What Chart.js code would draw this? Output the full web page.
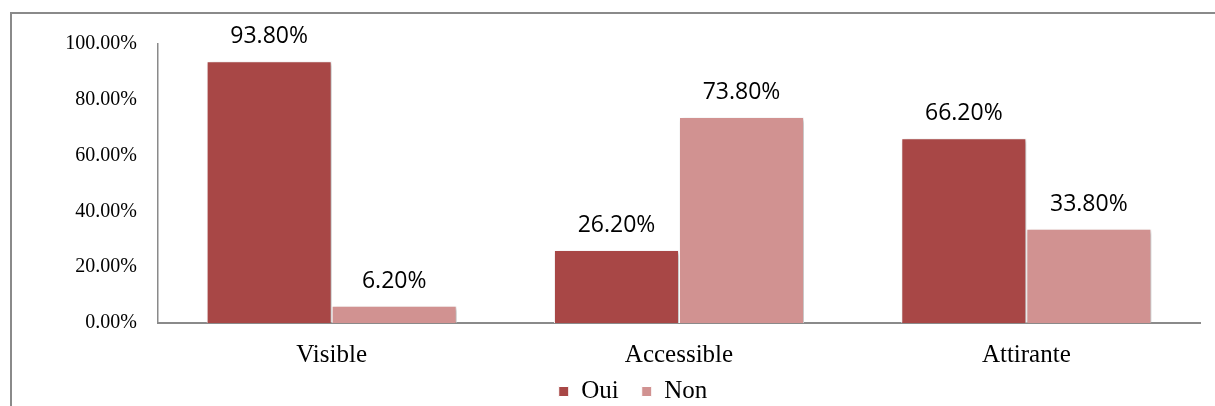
<!DOCTYPE html>
<html>
<head>
<meta charset="utf-8">
<script src="https://cdn.jsdelivr.net/npm/chart.js@4.4.1/dist/chart.umd.min.js"></script>
<style>
    html, body { margin: 0; padding: 0; background: #fff; }
    #wrap { width: 1215px; height: 406px; }
</style>
</head>
<body>
<div id="wrap"><canvas id="cvs"></canvas></div>
<script>
// données
const categories = ['Visible', 'Accessible', 'Attirante'];
const ouiValues  = [93.8, 26.2, 66.2];
const nonValues  = [6.2, 73.8, 33.8];
const yTicks     = [0, 20, 40, 60, 80, 100];

const clrOui = '#a84746';
const clrNon = '#d19291';

const pct = v => v.toFixed(2) + '%';

// cadre gris autour du graphique + réglages de mise en page
const framePlugin = {
    id: 'frame',
    afterLayout(chart) {
        // légende un peu décalée vers la droite comme sur l'original
        chart.legend.left += 33;
        chart.legend.right += 33;
        // pour ne pas couper les libellés de l'axe x
        chart.scales.x.bottom = chart.height;
    },
    beforeDraw(chart) {
        const c = chart.ctx;
        c.save();
        c.strokeStyle = '#8a8a8a';
        c.lineWidth = 2;
        c.strokeRect(11, 13, chart.width + 20, chart.height + 20);
        c.restore();
    }
};

// ombre des barres + étiquettes de valeur
const barPlugin = {
    id: 'barLabels',
    beforeDatasetsDraw(chart) {
        const c = chart.ctx;
        c.save();
        c.shadowColor = 'rgba(0,0,0,0.28)';
        c.shadowBlur = 4;
        c.shadowOffsetX = 2;
        c.shadowOffsetY = 2;
    },
    afterDatasetsDraw(chart) {
        const c = chart.ctx;
        c.restore();
        c.save();
        c.font = '23px "Open Sans"';
        c.fillStyle = '#000';
        c.textAlign = 'center';
        c.textBaseline = 'alphabetic';
        chart.data.datasets.forEach((ds, i) => {
            chart.getDatasetMeta(i).data.forEach((bar, j) => {
                c.fillText(pct(ds.data[j]), bar.x, bar.y - 18);
            });
        });
        c.restore();
    }
};

new Chart(document.getElementById('cvs'), {
    type: 'bar',
    data: {
        labels: categories,
        datasets: [
            { label: 'Oui', data: ouiValues, backgroundColor: clrOui, borderColor: '#fff', borderWidth: 1 },
            { label: 'Non', data: nonValues, backgroundColor: clrNon, borderColor: '#fff', borderWidth: 1 }
        ]
    },
    options: {
        responsive: true,
        maintainAspectRatio: false,
        animation: false,
        datasets: { bar: { categoryPercentage: 0.72, barPercentage: 1 } },
        layout: { padding: { top: 44, right: 15, left: 0, bottom: -8 } },
        plugins: {
            legend: {
                position: 'bottom',
                labels: {
                    color: '#000',
                    font: { family: '"Liberation Serif"', size: 25 },
                    boxWidth: 10,
                    boxHeight: 10,
                    padding: 23
                }
            },
            tooltip: { enabled: false }
        },
        scales: {
            x: {
                grid: { display: false, drawTicks: false },
                border: { color: '#8a8a8a', width: 2 },
                ticks: {
                    color: '#000',
                    padding: 17,
                    font: { family: '"Liberation Serif"', size: 25 }
                },
                afterFit: s => { s.height = 33; }
            },
            y: {
                min: 0,
                max: 100,
                grid: { display: false, drawTicks: false },
                border: { color: '#8a8a8a', width: 1.5 },
                afterBuildTicks: s => { s.ticks = yTicks.map(v => ({ value: v })); },
                ticks: {
                    color: '#000',
                    padding: 21,
                    font: { family: '"Liberation Serif"', size: 20 },
                    callback: v => pct(v)
                },
                afterFit: s => { s.width = 158; }
            }
        }
    },
    plugins: [framePlugin, barPlugin]
});
</script>
</body>
</html>
